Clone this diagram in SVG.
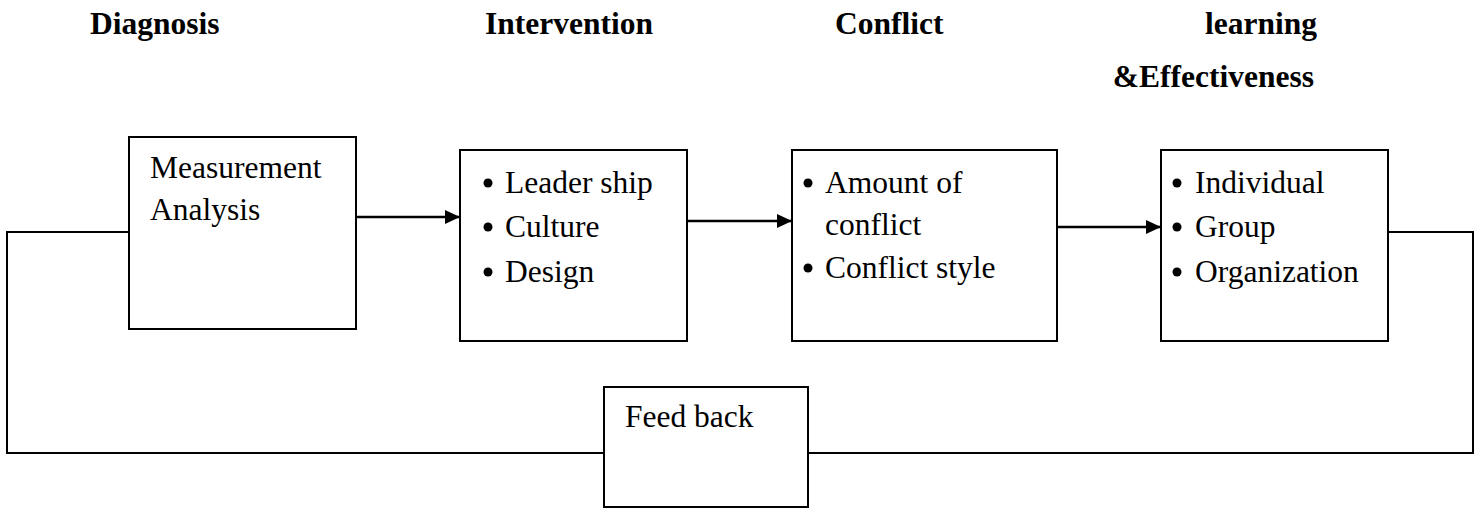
<svg xmlns="http://www.w3.org/2000/svg" width="1475" height="508" viewBox="0 0 1475 508">
<style>
.box{fill:#fff;stroke:#000;stroke-width:2}
.ln{fill:none;stroke:#000;stroke-width:2}
.ar{fill:none;stroke:#000;stroke-width:2.6}
.t{font-family:"Liberation Serif","Times New Roman",serif;font-size:31.5px;fill:#000}
.h{font-family:"Liberation Serif","Times New Roman",serif;font-size:31.5px;font-weight:bold;fill:#000}
</style>
<defs>
<marker id="ah" markerWidth="15" markerHeight="14" refX="15" refY="7" orient="auto" markerUnits="userSpaceOnUse">
<path d="M0,0 L15,7 L0,14 Z" fill="#000"/>
</marker>
</defs>
<rect width="1475" height="508" fill="#fff"/>
<g id="headers">
<text class="h" x="90" y="34">Diagnosis</text>
<text class="h" x="485" y="34">Intervention</text>
<text class="h" x="835" y="34">Conflict</text>
<text class="h" x="1317" y="34" text-anchor="end">learning</text>
<text class="h" x="1314" y="87" text-anchor="end">&amp;Effectiveness</text>
</g>
<g id="connectors">
<line class="ar" x1="356" y1="217" x2="460" y2="217" marker-end="url(#ah)"/>
<line class="ar" x1="687" y1="221" x2="792" y2="221" marker-end="url(#ah)"/>
<line class="ar" x1="1057" y1="227" x2="1161" y2="227" marker-end="url(#ah)"/>
<polyline class="ln" points="129,232 7,232 7,453 604,453"/>
<polyline class="ln" points="1388,232 1473,232 1473,453 808,453"/>
</g>
<g id="diagnosis">
<rect class="box" x="129" y="137" width="227" height="192"/>
<text class="t" x="150" y="178">Measurement</text>
<text class="t" x="150" y="220">Analysis</text>
</g>
<g id="intervention">
<rect class="box" x="460" y="150" width="227" height="191"/>
<circle cx="488" cy="183" r="4.5"/>
<circle cx="488" cy="227" r="4.5"/>
<circle cx="488" cy="272" r="4.5"/>
<text class="t" x="505" y="193">Leader ship</text>
<text class="t" x="505" y="237">Culture</text>
<text class="t" x="505" y="282">Design</text>
</g>
<g id="conflict">
<rect class="box" x="792" y="150" width="265" height="191"/>
<circle cx="808" cy="183" r="4.5"/>
<circle cx="808" cy="268" r="4.5"/>
<text class="t" x="825" y="193">Amount of</text>
<text class="t" x="825" y="235">conflict</text>
<text class="t" x="825" y="278">Conflict style</text>
</g>
<g id="learning">
<rect class="box" x="1161" y="150" width="227" height="191"/>
<circle cx="1177" cy="183" r="4.5"/>
<circle cx="1177" cy="227" r="4.5"/>
<circle cx="1177" cy="272" r="4.5"/>
<text class="t" x="1195" y="193">Individual</text>
<text class="t" x="1195" y="237">Group</text>
<text class="t" x="1195" y="282">Organization</text>
</g>
<g id="feedback">
<rect class="box" x="604" y="387" width="204" height="120"/>
<text class="t" x="625" y="427">Feed back</text>
</g>
</svg>
